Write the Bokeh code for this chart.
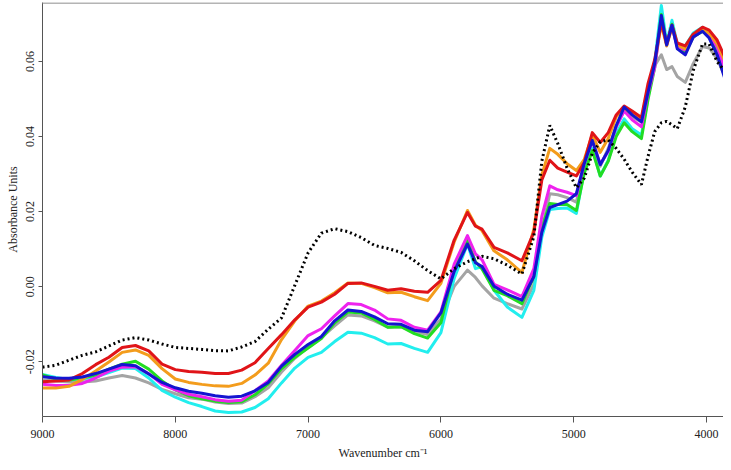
from bokeh.plotting import figure
from bokeh.models import Range1d, FixedTicker, Span
from bokeh.embed import file_html
from bokeh.resources import INLINE

# ---------------- data ----------------
wavenumber = [9000, 8900, 8800, 8700, 8600, 8500, 8400, 8300, 8200, 8100,
              8000, 7900, 7800, 7700, 7600, 7500, 7400, 7300, 7200, 7100,
              7000, 6900, 6800, 6700, 6600, 6500, 6400, 6300, 6200, 6100,
              6000, 5900, 5800, 5740, 5690, 5600, 5500, 5390, 5300, 5240,
              5180, 5120, 5050, 4980, 4920, 4860, 4800, 4740, 4680, 4620,
              4560, 4490, 4440, 4390, 4340, 4300, 4260, 4220, 4160, 4100,
              4030, 3980, 3920, 3860, 3810]

black = [-0.02145, -0.02093, -0.01961, -0.01830, -0.01738, -0.01581, -0.01423, -0.01358, -0.01423, -0.01528,
         -0.01620, -0.01646, -0.01673, -0.01706, -0.01712, -0.01607, -0.01463, -0.01134, -0.00833, 0.00034,
         0.00900, 0.01425, 0.01543, 0.01464, 0.01307, 0.01097, 0.01018, 0.00913, 0.00690, 0.00428,
         0.00205, 0.00480, 0.00664, 0.00743, 0.00808, 0.00743, 0.00572, 0.00336, 0.01333, 0.03341,
         0.04294, 0.03814, 0.03158, 0.02633, 0.02895, 0.03551, 0.03866, 0.03906, 0.03683, 0.03394,
         0.03053, 0.02719, 0.03473, 0.04129, 0.04365, 0.04404, 0.04313, 0.04208, 0.04785, 0.05756,
         0.06465, 0.06465, 0.05993, 0.05730, 0.05599]

red = [-0.02531, -0.02512, -0.02486, -0.02316, -0.02079, -0.01883, -0.01620, -0.01568, -0.01712, -0.02066,
       -0.02211, -0.02263, -0.02284, -0.02316, -0.02316, -0.02224, -0.02027, -0.01646, -0.01279, -0.00885,
       -0.00544, -0.00413, -0.00202, 0.00086, 0.00099, 0.00008, -0.00097, -0.00058, -0.00124, -0.00150,
       0.00165, 0.01241, 0.01976, 0.01609, 0.01530, 0.01044, 0.00900, 0.00690, 0.01451, 0.02843,
       0.03368, 0.03158, 0.03053, 0.02948, 0.03315, 0.04103, 0.03840, 0.04103, 0.04575, 0.04811,
       0.04680, 0.04509, 0.05415, 0.06045, 0.07043, 0.06465, 0.06964, 0.06491, 0.06413, 0.06728,
       0.06911, 0.06833, 0.06570, 0.06098, 0.05730]

orange = [-0.02704, -0.02704, -0.02657, -0.02473, -0.02250, -0.02009, -0.01751, -0.01686, -0.01830, -0.02184,
          -0.02460, -0.02552, -0.02604, -0.02644, -0.02657, -0.02578, -0.02355, -0.02040, -0.01410, -0.00911,
          -0.00518, -0.00386, -0.00163, 0.00099, 0.00086, -0.00027, -0.00163, -0.00150, -0.00268, -0.00373,
          0.00086, 0.01189, 0.02029, 0.01635, 0.01491, 0.00953, 0.00716, 0.00375, 0.01530, 0.02974,
          0.03683, 0.03525, 0.03276, 0.03092, 0.03394, 0.04050, 0.03578, 0.03945, 0.04523, 0.04759,
          0.04601, 0.04444, 0.05310, 0.05993, 0.06990, 0.06413, 0.06911, 0.06439, 0.06334, 0.06649,
          0.06833, 0.06754, 0.06465, 0.05993, 0.05625]

magenta = [-0.02599, -0.02631, -0.02631, -0.02578, -0.02434, -0.02250, -0.02145, -0.02132, -0.02316, -0.02604,
           -0.02749, -0.02867, -0.02933, -0.03011, -0.03051, -0.03024, -0.02775, -0.02513, -0.02093, -0.01699,
           -0.01305, -0.01121, -0.00780, -0.00452, -0.00478, -0.00623, -0.00859, -0.00898, -0.01082, -0.01161,
           -0.00675, 0.00598, 0.01359, 0.00874, 0.00716, 0.00060, -0.00084, -0.00268, 0.00480, 0.01871,
           0.02685, 0.02580, 0.02514, 0.02423, 0.03289, 0.03893, 0.03263, 0.03604, 0.04260, 0.04680,
           0.04444, 0.04260, 0.05153, 0.05835, 0.07095, 0.06439, 0.06938, 0.06373, 0.06308, 0.06649,
           0.06833, 0.06701, 0.06386, 0.05783, 0.05494]

green = [-0.02355, -0.02460, -0.02486, -0.02434, -0.02355, -0.02198, -0.02066, -0.01988, -0.02198, -0.02513,
         -0.02749, -0.02906, -0.02985, -0.03051, -0.03090, -0.03064, -0.02880, -0.02591, -0.02184, -0.01883,
         -0.01633, -0.01384, -0.00964, -0.00675, -0.00701, -0.00872, -0.01082, -0.01069, -0.01253, -0.01371,
         -0.00964, 0.00506, 0.01241, 0.00664, 0.00467, -0.00097, -0.00242, -0.00452, 0.00270, 0.01556,
         0.02213, 0.02186, 0.02186, 0.02029, 0.03026, 0.03630, 0.02948, 0.03341, 0.03998, 0.04365,
         0.04129, 0.03945, 0.04995, 0.05835, 0.07253, 0.06439, 0.06990, 0.06413, 0.06229, 0.06649,
         0.06806, 0.06675, 0.06281, 0.05651, 0.05363]

gray = [-0.02486, -0.02513, -0.02539, -0.02544, -0.02513, -0.02434, -0.02368, -0.02434, -0.02565, -0.02736,
        -0.02854, -0.02959, -0.02998, -0.03077, -0.03116, -0.03103, -0.02933, -0.02696, -0.02276, -0.01909,
        -0.01620, -0.01358, -0.01043, -0.00754, -0.00780, -0.00911, -0.01082, -0.01069, -0.01187, -0.01279,
        -0.00859, 0.00008, 0.00441, 0.00244, 0.00021, -0.00308, -0.00452, -0.00596, 0.00060, 0.01504,
        0.02475, 0.02449, 0.02370, 0.02252, 0.03210, 0.03578, 0.03210, 0.03683, 0.04260, 0.04706,
        0.04523, 0.04391, 0.05205, 0.05888, 0.06176, 0.05783, 0.05861, 0.05599, 0.05441, 0.05940,
        0.06399, 0.06360, 0.06071, 0.05599, 0.05231]

cyan = [-0.02342, -0.02421, -0.02473, -0.02460, -0.02408, -0.02289, -0.02171, -0.02184, -0.02434, -0.02762,
        -0.02946, -0.03090, -0.03195, -0.03313, -0.03353, -0.03339, -0.03221, -0.02985, -0.02565, -0.02171,
        -0.01883, -0.01751, -0.01463, -0.01213, -0.01239, -0.01358, -0.01528, -0.01515, -0.01646, -0.01751,
        -0.01226, 0.00218, 0.01136, 0.00480, 0.00533, -0.00097, -0.00544, -0.00819, -0.00097, 0.01320,
        0.02055, 0.02081, 0.02094, 0.01950, 0.03105, 0.03683, 0.02948, 0.03368, 0.04076, 0.04470,
        0.04208, 0.04037, 0.05048, 0.05993, 0.07489, 0.06491, 0.07095, 0.06465, 0.06413, 0.06754,
        0.06911, 0.06701, 0.06281, 0.05678, 0.05284]

blue = [-0.02400, -0.02434, -0.02441, -0.02408, -0.02316, -0.02198, -0.02074, -0.02106, -0.02329, -0.02552,
        -0.02696, -0.02788, -0.02841, -0.02906, -0.02946, -0.02919, -0.02775, -0.02552, -0.02119, -0.01804,
        -0.01541, -0.01331, -0.00911, -0.00623, -0.00662, -0.00806, -0.00990, -0.01003, -0.01161, -0.01200,
        -0.00701, 0.00401, 0.01136, 0.00638, 0.00533, 0.00008, -0.00202, -0.00360, 0.00270, 0.01451,
        0.02108, 0.02186, 0.02278, 0.02475, 0.03289, 0.03893, 0.03250, 0.03630, 0.04286, 0.04785,
        0.04575, 0.04391, 0.05179, 0.05940, 0.07226, 0.06439, 0.06964, 0.06334, 0.06176, 0.06649,
        0.06806, 0.06623, 0.06176, 0.05520, 0.05231]

x_ticks = [9000, 8000, 7000, 6000, 5000, 4000]
y_ticks = [-0.02, 0.00, 0.02, 0.04, 0.06]
y_tick_labels = ["-0.02", "0.00", "0.02", "0.04", "0.06"]

# ---------------- figure ----------------
FONT = "Liberation Serif"
Y_TOP = 0.0757

p = figure(width=723, height=462, output_backend="svg", toolbar_location=None,
           x_range=Range1d(9000, 3872), y_range=Range1d(-0.0346, Y_TOP),
           min_border_left=42, min_border_right=0, min_border_top=2, min_border_bottom=40)

p.background_fill_color = "white"
p.border_fill_color = "white"
p.outline_line_color = None
p.grid.visible = False

series = [
    (gray, "#a4a4a4"),
    (cyan, "#22eeee"),
    (green, "#22dd22"),
    (magenta, "#ee22ee"),
    (orange, "#f39c1c"),
    (red, "#e01418"),
    (blue, "#1414d0"),
]
for ys, col in series:
    p.line(wavenumber, ys, line_color=col, line_width=3, line_join="round")

p.line(wavenumber, black, line_color="black", line_width=3, line_dash="2 3")

top = Span(location=Y_TOP, dimension="width", line_color="#b4b4b4", line_width=3)
p.add_layout(top)

# x axis
xa = p.xaxis[0]
xa.ticker = FixedTicker(ticks=x_ticks)
xa.minor_tick_line_color = None
xa.major_tick_in = 0
xa.major_tick_out = 6
xa.axis_line_color = "#555555"
xa.major_tick_line_color = "#555555"
xa.major_label_text_font = FONT
xa.major_label_text_font_size = "12px"
xa.major_label_text_color = "#222222"
xa.major_label_standoff = 7
xa.axis_label = "Wavenumber cm\u207b\u00b9"
xa.axis_label_text_font = FONT
xa.axis_label_text_font_size = "12px"
xa.axis_label_text_font_style = "normal"
xa.axis_label_text_color = "#222222"
xa.axis_label_standoff = 5

# y axis
ya = p.yaxis[0]
ya.ticker = FixedTicker(ticks=y_ticks)
ya.major_label_overrides = {t: s for t, s in zip(y_ticks, y_tick_labels)}
ya.minor_tick_line_color = None
ya.major_tick_in = 0
ya.major_tick_out = 4
ya.axis_line_color = "#555555"
ya.major_tick_line_color = "#555555"
ya.major_label_text_font = FONT
ya.major_label_text_font_size = "12px"
ya.major_label_text_color = "#222222"
ya.major_label_orientation = "vertical"
ya.major_label_standoff = 4
ya.axis_label = "Absorbance Units"
ya.axis_label_text_font = FONT
ya.axis_label_text_font_size = "12px"
ya.axis_label_text_font_style = "normal"
ya.axis_label_text_color = "#222222"
ya.axis_label_standoff = 4

open("out.html", "w").write(file_html(p, INLINE))
